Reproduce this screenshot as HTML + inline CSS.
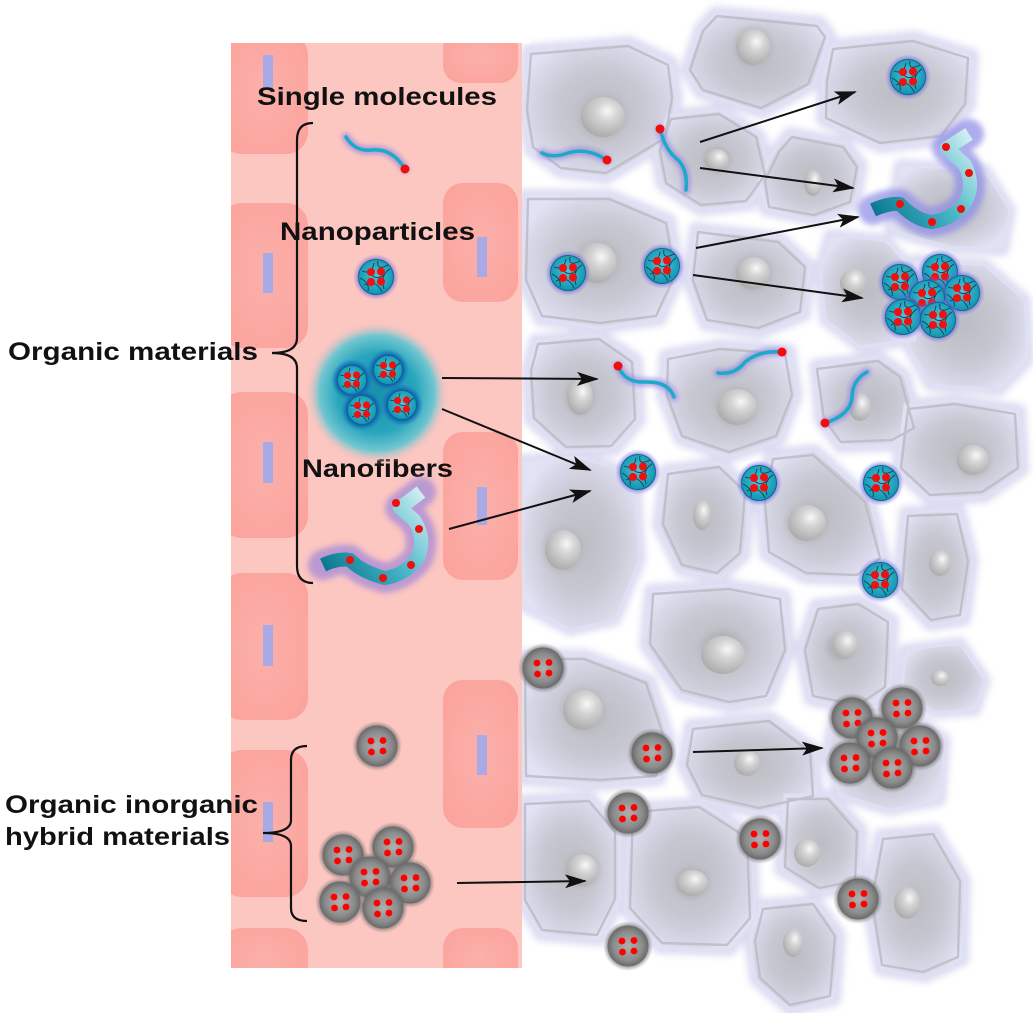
<!DOCTYPE html>
<html><head><meta charset="utf-8"><style>
html,body{margin:0;padding:0;background:#fff;}
svg{display:block;}
text{font-family:"Liberation Sans",Arial,sans-serif;font-weight:bold;fill:#111;}
</style></head><body>
<svg width="1033" height="1013" viewBox="0 0 1033 1013" xmlns="http://www.w3.org/2000/svg">
<defs>
<radialGradient id="cellG" cx="0.5" cy="0.5" r="0.55">
<stop offset="0" stop-color="#bcbcc4"/><stop offset="0.5" stop-color="#c7c7d1"/><stop offset="0.82" stop-color="#d6d6e6"/><stop offset="1" stop-color="#e2e2f5"/>
</radialGradient>
<radialGradient id="nucG" cx="0.6" cy="0.35" r="0.7">
<stop offset="0" stop-color="#f8f8f8"/><stop offset="0.35" stop-color="#d4d4d4"/><stop offset="1" stop-color="#a8a8a8"/>
</radialGradient>
<radialGradient id="nucH" cx="0.5" cy="0.5" r="0.5">
<stop offset="0.6" stop-color="#a8a8b0" stop-opacity="0.55"/><stop offset="1" stop-color="#b8b8c0" stop-opacity="0"/>
</radialGradient>
<radialGradient id="npGlow" cx="0.5" cy="0.5" r="0.5">
<stop offset="0.7" stop-color="#4a4ad8" stop-opacity="0.75"/><stop offset="1" stop-color="#8080f0" stop-opacity="0"/>
</radialGradient>
<radialGradient id="npFill" cx="0.5" cy="0.45" r="0.55">
<stop offset="0" stop-color="#4ec4d4"/><stop offset="1" stop-color="#0f95b2"/>
</radialGradient>
<radialGradient id="inpGlow" cx="0.5" cy="0.5" r="0.5">
<stop offset="0.75" stop-color="#5a5a5a" stop-opacity="0.8"/><stop offset="1" stop-color="#808080" stop-opacity="0"/>
</radialGradient>
<radialGradient id="inpFill" cx="0.5" cy="0.5" r="0.5">
<stop offset="0" stop-color="#b0b0b0"/><stop offset="0.7" stop-color="#8c8c8c"/><stop offset="1" stop-color="#6a6a6a"/>
</radialGradient>
<radialGradient id="micG" cx="0.5" cy="0.5" r="0.5">
<stop offset="0" stop-color="#1890aa"/><stop offset="0.55" stop-color="#28a6bd"/><stop offset="0.8" stop-color="#70c6d0"/><stop offset="1" stop-color="#fcc5c0" stop-opacity="0"/>
</radialGradient>
<radialGradient id="micNP" cx="0.5" cy="0.5" r="0.5">
<stop offset="0.7" stop-color="#0f5cb8"/><stop offset="1" stop-color="#1a7ab8" stop-opacity="0"/>
</radialGradient>
<radialGradient id="redCell" cx="0.5" cy="0.5" r="0.6">
<stop offset="0" stop-color="#fbb0aa"/><stop offset="1" stop-color="#fba49d"/>
</radialGradient>
<linearGradient id="fibL" gradientUnits="userSpaceOnUse" x1="323" y1="565" x2="422" y2="489">
<stop offset="0" stop-color="#0a7890"/><stop offset="0.5" stop-color="#4ab8c8"/><stop offset="1" stop-color="#d6f0f4"/>
</linearGradient>
<linearGradient id="fibR" gradientUnits="userSpaceOnUse" x1="872" y1="208" x2="970" y2="133">
<stop offset="0" stop-color="#0a7890"/><stop offset="0.5" stop-color="#4ab8c8"/><stop offset="1" stop-color="#d6f0f4"/>
</linearGradient>
<filter id="blur3" x="-50%" y="-50%" width="200%" height="200%"><feGaussianBlur stdDeviation="3"/></filter>
<filter id="blur2" x="-50%" y="-50%" width="200%" height="200%"><feGaussianBlur stdDeviation="2"/></filter>
<filter id="blur4" x="-10%" y="-10%" width="120%" height="120%"><feGaussianBlur stdDeviation="3.5"/></filter>
<marker id="ah" markerWidth="22" markerHeight="14" refX="20" refY="7" orient="auto" markerUnits="userSpaceOnUse">
<path d="M0,0 L22,7 L0,14 L5,7 Z" fill="#111"/>
</marker>
<g id="cells">
<polygon points="528,50 630,42 672,62 677,97 670,140 653,150 607,178 560,172 530,150 523,110"/>
<polygon points="715,12 820,22 830,35 813,85 763,113 700,93 686,70 700,28"/>
<polygon points="830,45 915,37 973,55 970,105 945,140 880,147 822,120 823,80"/>
<polygon points="900,165 985,170 1010,210 1003,250 950,247 890,230"/>
<polygon points="668,115 720,110 760,135 770,175 750,205 700,210 662,185 655,150"/>
<polygon points="790,133 845,143 862,165 855,205 815,220 765,210 760,180 775,150"/>
<polygon points="915,260 985,265 1025,300 1028,360 1000,390 930,385 905,340"/>
<polygon points="525,195 610,195 670,220 680,275 660,320 600,328 540,320 522,280"/>
<polygon points="695,228 780,238 810,265 805,315 760,333 705,325 688,280"/>
<polygon points="830,235 885,240 918,275 915,340 860,347 825,320 820,270"/>
<polygon points="535,340 600,335 637,360 640,420 615,450 565,452 530,420 527,370"/>
<polygon points="665,355 720,345 790,350 797,395 780,440 730,457 680,440 662,395"/>
<polygon points="815,365 880,357 905,375 920,430 895,445 840,447 820,420"/>
<polygon points="905,405 955,400 1020,410 1023,470 985,497 930,500 897,470"/>
<polygon points="522,460 580,457 635,475 640,560 615,620 570,630 522,605"/>
<polygon points="665,470 720,463 750,490 745,555 720,578 680,570 658,525"/>
<polygon points="770,455 815,450 870,500 885,560 860,580 805,578 765,555 760,500"/>
<polygon points="905,512 960,510 973,560 965,620 930,625 897,590"/>
<polygon points="650,590 730,585 785,595 790,650 770,700 730,707 680,695 645,645"/>
<polygon points="815,605 860,600 893,620 890,690 860,710 810,700 800,650"/>
<polygon points="905,650 960,643 985,680 975,710 935,713 902,690"/>
<polygon points="522,655 585,655 650,680 670,740 660,780 600,785 522,780"/>
<polygon points="690,725 770,717 815,750 818,800 760,813 700,800 682,765"/>
<polygon points="835,710 900,705 945,740 940,800 890,810 840,795 827,755"/>
<polygon points="522,800 590,797 620,830 620,900 600,940 540,935 520,900"/>
<polygon points="630,808 700,803 752,835 755,920 730,950 660,948 625,910"/>
<polygon points="785,795 830,795 862,830 860,885 820,893 780,870"/>
<polygon points="880,835 935,830 965,880 963,960 925,977 880,970 867,900"/>
<polygon points="760,905 815,900 840,935 835,1000 790,1010 755,980 750,940"/>
</g>
<g id="np">
<circle r="23" fill="url(#npGlow)"/>
<circle r="17.5" fill="url(#npFill)" stroke="#0b6a84" stroke-width="1"/>
<path d="M-14,-6 Q-4,-2 -2,-14 M-12,8 Q0,2 6,15 M14,-8 Q4,-2 8,12 M-16,1 Q-6,6 -8,14 M2,-16 Q0,-6 12,-12 M-6,-4 Q0,4 8,-2" fill="none" stroke="#123c52" stroke-width="0.9"/>
<circle cx="-5" cy="-5" r="4" fill="#f01010"/><circle cx="5" cy="-5.5" r="4" fill="#f01010"/>
<circle cx="-5" cy="5" r="4" fill="#f01010"/><circle cx="5" cy="4.5" r="4" fill="#f01010"/>
</g>
<g id="mnp">
<circle r="21" fill="url(#micNP)"/>
<circle r="14.5" fill="url(#npFill)" stroke="#0b6a84" stroke-width="1"/>
<path d="M-12,-5 Q-3,-2 -2,-12 M-10,7 Q0,2 5,12 M12,-7 Q3,-2 7,10 M-6,-4 Q0,4 7,-2" fill="none" stroke="#123c52" stroke-width="0.8"/>
<circle cx="-4.5" cy="-4.5" r="3.6" fill="#f01010"/><circle cx="4.5" cy="-5" r="3.6" fill="#f01010"/>
<circle cx="-4.5" cy="4.5" r="3.6" fill="#f01010"/><circle cx="4.5" cy="4" r="3.6" fill="#f01010"/>
</g>
<g id="inp">
<circle r="25" fill="url(#inpGlow)"/>
<circle r="20.5" fill="url(#inpFill)"/>
<circle cx="-6" cy="-5" r="3.4" fill="#f00"/><circle cx="6" cy="-5.5" r="3.4" fill="#f00"/>
<circle cx="-5.5" cy="6" r="3.4" fill="#f00"/><circle cx="6" cy="5" r="3.4" fill="#f00"/>
</g>
</defs>

<rect width="1033" height="1013" fill="#fff"/>

<!-- cells -->
<use href="#cells" fill="#e0e0f4" stroke="#dcdcf2" stroke-width="12" stroke-linejoin="round" filter="url(#blur4)"/>
<use href="#cells" fill="url(#cellG)" stroke="#e0e0f4" stroke-width="3" stroke-linejoin="round"/>
<g fill="none" stroke="#bcbcc6" stroke-width="2.4" stroke-linejoin="round" opacity="0.85">
<polygon points="531,54 628,46 668,65 672,98 665,138 650,147 606,173 561,168 533,147 527,110"/>
<polygon points="717,16 817,26 825,37 808,84 761,108 703,90 690,70 703,31"/>
<polygon points="833,49 913,41 968,58 965,104 941,136 880,143 826,118 827,81"/>
<polygon points="671,119 719,114 756,137 765,175 746,201 701,205 666,183 660,151"/>
<polygon points="792,137 843,147 857,167 850,202 814,215 769,207 765,181 779,152"/>
<polygon points="528,199 609,199 666,223 675,275 656,316 600,323 542,316 526,280"/>
<polygon points="698,232 778,242 805,267 800,312 758,328 707,320 693,280"/>
<polygon points="538,344 599,339 632,362 635,419 611,446 566,447 534,418 531,371"/>
<polygon points="668,359 720,349 785,354 792,395 776,436 729,452 682,436 667,395"/>
<polygon points="817,369 878,361 900,377 914,428 892,440 841,442 824,419"/>
<polygon points="908,409 955,404 1015,414 1018,468 982,492 930,495 901,468"/>
<polygon points="668,474 719,467 745,492 740,553 717,573 682,565 663,524"/>
<polygon points="773,459 813,455 865,502 880,558 857,575 806,573 769,552 765,501"/>
<polygon points="653,594 729,589 780,599 785,650 766,696 729,702 682,690 650,644"/>
<polygon points="525,659 584,659 646,683 665,741 656,776 600,780 526,776"/>
<polygon points="693,729 769,721 810,752 813,796 759,808 702,795 687,765"/>
<polygon points="633,812 699,807 747,838 750,918 727,945 662,943 630,908"/>
<polygon points="883,839 933,834 960,881 958,957 923,972 882,965 872,900"/>
<polygon points="525,804 589,801 615,832 615,899 597,935 542,930 525,900"/>
<polygon points="788,799 828,799 857,832 855,881 819,888 785,867"/>
<polygon points="763,909 813,904 835,936 830,996 790,1005 760,978 755,941"/>
<polygon points="908,516 957,514 968,561 960,615 931,620 902,589"/>
<polygon points="818,609 858,604 888,622 885,687 858,705 813,696 805,650"/>
</g>

<!-- nuclei -->
<g>
<g fill="url(#nucH)">
<ellipse cx="603" cy="117" rx="30" ry="28"/><ellipse cx="753" cy="47" rx="24" ry="25"/><ellipse cx="597" cy="263" rx="28" ry="28"/>
<ellipse cx="753" cy="273" rx="24" ry="23"/><ellipse cx="737" cy="407" rx="27" ry="25"/><ellipse cx="563" cy="550" rx="25" ry="28"/>
<ellipse cx="807" cy="523" rx="26" ry="25"/><ellipse cx="723" cy="650" rx="29" ry="26"/><ellipse cx="583" cy="710" rx="27" ry="27"/>
<ellipse cx="973" cy="460" rx="22" ry="21"/><ellipse cx="692" cy="883" rx="23" ry="20"/><ellipse cx="582" cy="870" rx="22" ry="22"/>
<ellipse cx="840" cy="647" rx="18" ry="18"/><ellipse cx="717" cy="160" rx="18" ry="17"/><ellipse cx="580" cy="397" rx="19" ry="24"/>
</g>
<g fill="url(#nucG)">
<ellipse cx="603" cy="117" rx="22" ry="20"/><ellipse cx="753" cy="47" rx="17" ry="18"/><ellipse cx="717" cy="160" rx="12" ry="11"/>
<ellipse cx="813" cy="183" rx="9" ry="13"/><ellipse cx="597" cy="263" rx="20" ry="20"/><ellipse cx="753" cy="273" rx="17" ry="16"/>
<ellipse cx="853" cy="283" rx="13" ry="14"/><ellipse cx="580" cy="397" rx="13" ry="18"/><ellipse cx="737" cy="407" rx="20" ry="18"/>
<ellipse cx="860" cy="407" rx="11" ry="14"/><ellipse cx="973" cy="460" rx="16" ry="15"/><ellipse cx="563" cy="550" rx="18" ry="20"/>
<ellipse cx="702" cy="515" rx="9" ry="15"/><ellipse cx="807" cy="523" rx="19" ry="18"/><ellipse cx="940" cy="563" rx="11" ry="13"/>
<ellipse cx="723" cy="655" rx="22" ry="19"/><ellipse cx="845" cy="645" rx="13" ry="14"/><ellipse cx="940" cy="678" rx="9" ry="8"/>
<ellipse cx="583" cy="710" rx="20" ry="20"/><ellipse cx="747" cy="763" rx="13" ry="13"/><ellipse cx="582" cy="870" rx="16" ry="16"/>
<ellipse cx="692" cy="883" rx="16" ry="13"/><ellipse cx="807" cy="853" rx="13" ry="14"/><ellipse cx="907" cy="903" rx="13" ry="16"/>
<ellipse cx="793" cy="943" rx="10" ry="14"/><ellipse cx="905" cy="75" rx="15" ry="15"/>
</g>
</g>

<!-- pink vessel -->
<rect x="231" y="43" width="291" height="925" fill="#fcc6c1"/>
<g fill="url(#redCell)">
<rect x="220" y="33" width="88" height="121" rx="22"/>
<rect x="220" y="203" width="88" height="145" rx="22"/>
<rect x="220" y="392" width="88" height="146" rx="22"/>
<rect x="220" y="573" width="88" height="147" rx="22"/>
<rect x="220" y="750" width="88" height="147" rx="22"/>
<rect x="220" y="928" width="88" height="60" rx="22"/>
<rect x="443" y="30" width="75" height="53" rx="18"/>
<rect x="443" y="183" width="75" height="119" rx="20"/>
<rect x="443" y="432" width="75" height="148" rx="20"/>
<rect x="443" y="680" width="75" height="148" rx="20"/>
<rect x="443" y="928" width="75" height="60" rx="20"/>
</g>
<rect x="231" y="968" width="300" height="45" fill="#fff"/>
<rect x="231" y="0" width="300" height="43" fill="#fff"/>
<rect x="200" y="0" width="31" height="1013" fill="#fff"/>
<g fill="#a9a9e6">
<rect x="263" y="55" width="10" height="33"/>
<rect x="263" y="253" width="10" height="40"/>
<rect x="263" y="442" width="10" height="41"/>
<rect x="263" y="625" width="10" height="41"/>
<rect x="263" y="802" width="10" height="40"/>
<rect x="477" y="237" width="10" height="40"/>
<rect x="477" y="487" width="10" height="38"/>
<rect x="477" y="735" width="10" height="40"/>
</g>

<!-- labels -->
<text x="257" y="105" font-size="25" textLength="240" lengthAdjust="spacingAndGlyphs">Single molecules</text>
<text x="280" y="240" font-size="25" textLength="195" lengthAdjust="spacingAndGlyphs">Nanoparticles</text>
<text x="8" y="360" font-size="25" textLength="250" lengthAdjust="spacingAndGlyphs">Organic materials</text>
<text x="302" y="477" font-size="25" textLength="151" lengthAdjust="spacingAndGlyphs">Nanofibers</text>
<text x="5" y="813" font-size="25" textLength="253" lengthAdjust="spacingAndGlyphs">Organic inorganic</text>
<text x="5" y="845" font-size="25" textLength="225" lengthAdjust="spacingAndGlyphs">hybrid materials</text>

<!-- braces -->
<g fill="none" stroke="#111" stroke-width="2.2">
<path d="M313,123 Q297,123 297,140 L297,338 Q297,353 272,353 Q297,353 297,368 L297,566 Q297,583 313,583"/>
<path d="M307,746 Q291,746 291,760 L291,820 Q291,833 263,833 Q291,833 291,846 L291,908 Q291,921 307,921"/>
</g>

<!-- single molecules -->
<g fill="none" stroke-linecap="round">
<g stroke="#9a86e0" stroke-width="9" opacity="0.65" filter="url(#blur2)">
<path d="M346,137 Q355,152 372,150 Q392,148 405,169"/>
<path d="M542,153 Q552,158 565,154 Q585,146 607,160"/>
<path d="M660,129 Q665,150 678,160 Q688,170 686,190"/>
<path d="M618,366 Q625,383 645,382 Q668,381 674,397"/>
<path d="M718,373 Q735,375 745,362 Q760,350 782,352"/>
<path d="M867,372 Q852,380 852,398 Q850,415 825,423"/>
</g>
<g stroke="#1aacc6" stroke-width="3.5">
<path d="M346,137 Q355,152 372,150 Q392,148 405,169"/>
<path d="M542,153 Q552,158 565,154 Q585,146 607,160"/>
<path d="M660,129 Q665,150 678,160 Q688,170 686,190"/>
<path d="M618,366 Q625,383 645,382 Q668,381 674,397"/>
<path d="M718,373 Q735,375 745,362 Q760,350 782,352"/>
<path d="M867,372 Q852,380 852,398 Q850,415 825,423"/>
</g>
</g>
<g fill="#f20d0d">
<circle cx="405" cy="169" r="4.5"/><circle cx="607" cy="160" r="4.5"/><circle cx="660" cy="129" r="4.5"/>
<circle cx="618" cy="366" r="4.5"/><circle cx="782" cy="352" r="4.5"/><circle cx="825" cy="423" r="4.5"/>
</g>

<!-- micelle -->
<circle cx="377" cy="393" r="72" fill="url(#micG)"/>
<use href="#mnp" x="352" y="380"/><use href="#mnp" x="388" y="370"/>
<use href="#mnp" x="362" y="410"/><use href="#mnp" x="402" y="405"/>

<!-- fibers -->
<g fill="none" stroke-linecap="round" stroke-linejoin="round">
<path d="M323,565 Q338,558 350,560 Q362,572 385,578 Q405,575 418,558 Q426,538 414,520 L400,508 L421,492" stroke="#a58ad8" stroke-width="30" opacity="0.75" filter="url(#blur3)"/>
<path d="M323,565 Q338,558 350,560 Q362,572 385,578 Q405,575 418,558 Q426,538 414,520 L400,508 L421,492" stroke="url(#fibL)" stroke-width="14" stroke-linecap="butt"/>
<path d="M873,210 Q888,203 900,204 Q915,220 932,222 Q955,218 965,203 Q975,185 965,165 L947,148 L969,134" stroke="#8c8ae6" stroke-width="30" opacity="0.7" filter="url(#blur3)"/>
<path d="M873,210 Q888,203 900,204 Q915,220 932,222 Q955,218 965,203 Q975,185 965,165 L947,148 L969,134" stroke="url(#fibR)" stroke-width="14" stroke-linecap="butt"/>
</g>
<g fill="#f20d0d">
<circle cx="350" cy="560" r="4"/><circle cx="383" cy="578" r="4"/><circle cx="411" cy="565" r="4"/><circle cx="419" cy="529" r="4"/><circle cx="396" cy="503" r="4"/>
<circle cx="900" cy="204" r="4"/><circle cx="932" cy="222" r="4"/><circle cx="961" cy="209" r="4"/><circle cx="969" cy="173" r="4"/><circle cx="946" cy="147" r="4"/>
</g>

<!-- organic nanoparticles -->
<use href="#np" x="376" y="277"/>
<use href="#np" x="908" y="77"/>
<use href="#np" x="568" y="273"/><use href="#np" x="662" y="266"/>
<use href="#np" x="638" y="472"/><use href="#np" x="759" y="483"/><use href="#np" x="881" y="483"/><use href="#np" x="880" y="580"/>
<use href="#np" x="900" y="282"/><use href="#np" x="940" y="272"/><use href="#np" x="962" y="293"/>
<use href="#np" x="927" y="298"/><use href="#np" x="903" y="317"/><use href="#np" x="938" y="320"/>

<!-- inorganic nanoparticles -->
<use href="#inp" x="377" y="746"/>
<use href="#inp" x="343" y="855"/><use href="#inp" x="393" y="847"/><use href="#inp" x="370" y="877"/>
<use href="#inp" x="410" y="883"/><use href="#inp" x="340" y="902"/><use href="#inp" x="383" y="908"/>
<use href="#inp" x="543" y="668"/><use href="#inp" x="652" y="753"/><use href="#inp" x="628" y="813"/>
<use href="#inp" x="760" y="839"/><use href="#inp" x="628" y="946"/><use href="#inp" x="858" y="899"/>
<use href="#inp" x="852" y="718"/><use href="#inp" x="902" y="708"/><use href="#inp" x="877" y="738"/>
<use href="#inp" x="920" y="746"/><use href="#inp" x="850" y="763"/><use href="#inp" x="892" y="768"/>

<!-- arrows -->
<g stroke="#111" stroke-width="2" marker-end="url(#ah)">
<line x1="700" y1="142" x2="855" y2="92"/>
<line x1="700" y1="168" x2="853" y2="188"/>
<line x1="696" y1="248" x2="858" y2="217"/>
<line x1="693" y1="275" x2="862" y2="298"/>
<line x1="442" y1="378" x2="597" y2="379"/>
<line x1="442" y1="409" x2="590" y2="470"/>
<line x1="449" y1="529" x2="590" y2="491"/>
<line x1="693" y1="752" x2="822" y2="748"/>
<line x1="457" y1="883" x2="585" y2="881"/>
</g>
</svg>
</body></html>
